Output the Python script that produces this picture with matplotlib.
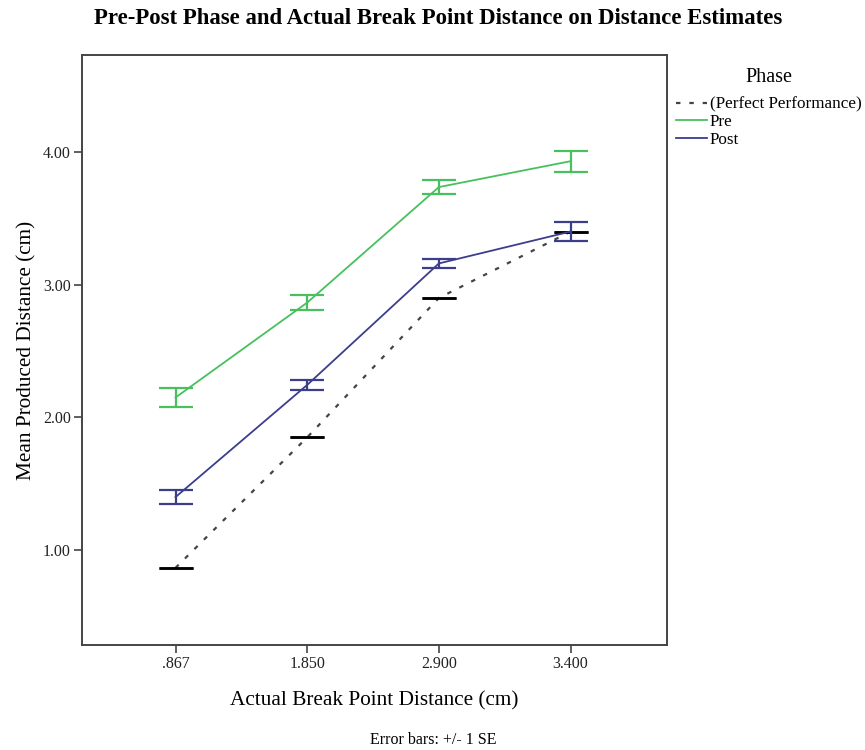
import matplotlib
matplotlib.use("Agg")
import matplotlib.pyplot as plt

# data
categories = [".867", "1.850", "2.900", "3.400"]
perfect = [0.867, 1.850, 2.900, 3.400]
pre_mean = [2.15, 2.865, 3.735, 3.93]
pre_se = [0.07, 0.055, 0.055, 0.08]
post_mean = [1.40, 2.245, 3.16, 3.40]
post_se = [0.05, 0.035, 0.035, 0.07]

plt.rcParams['font.family'] = ['Liberation Serif', 'DejaVu Serif']

fig = plt.figure(figsize=(8.65, 7.5), dpi=100)
ax = fig.add_axes([0.0948, 0.14, 0.676, 0.7867])

x = list(range(len(categories)))
green = '#48c05e'
navy = '#3c3e8c'

ax.plot(x, perfect, color='#444444', lw=1.6, ls=(0, (2, 4)), label='(Perfect Performance)')
ax.errorbar(x, perfect, yerr=[0, 0, 0, 0], fmt='none', ecolor='black', capsize=12, capthick=1.8, elinewidth=0)
ax.plot(x, pre_mean, color=green, lw=1.3, label='Pre')
ax.errorbar(x, pre_mean, yerr=pre_se, fmt='none', ecolor=green, capsize=12, capthick=1.6, elinewidth=1.6)
ax.plot(x, post_mean, color=navy, lw=1.3, label='Post')
ax.errorbar(x, post_mean, yerr=post_se, fmt='none', ecolor=navy, capsize=12, capthick=1.6, elinewidth=1.6)

ax.set_xlim(-0.71, 3.73)
ax.set_ylim(0.286, 4.73)
ax.set_xticks(x)
ax.set_xticklabels(categories)
ax.set_yticks([1, 2, 3, 4])
ax.set_yticklabels(["1.00", "2.00", "3.00", "4.00"])
ax.tick_params(direction='out', length=6, width=1.2, color='#444444', labelsize=11.5,
               labelcolor='#222222', pad=2)
for s in ax.spines.values():
    s.set_color('#444444')
    s.set_linewidth(1.4)

ax.set_xlabel('Actual Break Point Distance (cm)', fontsize=15.3, labelpad=14)
ax.set_ylabel('Mean Produced Distance (cm)', fontsize=15.3, labelpad=5)
fig.text(0.507, 0.976, 'Pre-Post Phase and Actual Break Point Distance on Distance Estimates',
         ha='center', va='center', fontsize=16.4, fontweight='bold')
fig.text(0.501, 0.013, 'Error bars: +/- 1 SE', ha='center', va='center', fontsize=11.5)

leg = ax.legend(loc='upper left', bbox_to_anchor=(0.995, 0.998), frameon=False, title='Phase',
                fontsize=12.3, title_fontsize=14.5, handlelength=1.8, handletextpad=0.2,
                labelspacing=0.08, borderaxespad=0.3)
leg._legend_box.sep = 7

fig.savefig('out.png', dpi=100)
